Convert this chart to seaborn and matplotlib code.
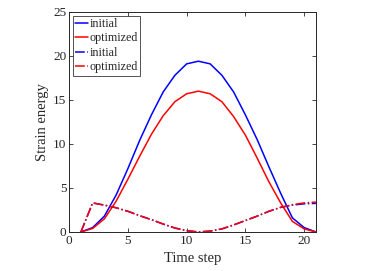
import pandas as pd
import matplotlib
matplotlib.use("Agg")
import matplotlib.pyplot as plt
import seaborn as sns

# Data
time_step = list(range(1, 22))
initial_solid = [0, 0.5, 1.8, 4.2, 7.2, 10.4, 13.3, 15.9, 17.8, 19.1, 19.4,
                 19.1, 17.8, 15.9, 13.3, 10.5, 7.4, 4.4, 1.6, 0.5, 0]
optimized_solid = [0, 0.4, 1.5, 3.5, 6.0, 8.6, 11.1, 13.2, 14.8, 15.7, 16.0,
                   15.7, 14.8, 13.1, 11.0, 8.4, 5.7, 3.3, 1.2, 0.35, 0]
initial_dash = [0, 3.3, 3.05, 2.75, 2.35, 1.85, 1.4, 0.9, 0.45, 0.15, 0.0,
                0.1, 0.35, 0.8, 1.3, 1.8, 2.35, 2.8, 3.05, 3.2, 3.25]
optimized_dash = [0, 3.3, 3.05, 2.75, 2.35, 1.85, 1.4, 0.9, 0.45, 0.15, 0.0,
                  0.1, 0.35, 0.8, 1.3, 1.8, 2.35, 2.8, 3.1, 3.3, 3.4]

sns.set_style("ticks")
plt.rcParams['font.family'] = ['Liberation Serif', 'DejaVu Serif']
plt.rcParams['xtick.direction'] = 'in'
plt.rcParams['ytick.direction'] = 'in'

df = pd.DataFrame({
    'Time step': time_step,
    'initial': initial_solid,
    'optimized': optimized_solid,
    'initial_d': initial_dash,
    'optimized_d': optimized_dash,
})

fig = plt.figure(figsize=(3.82, 2.71), dpi=100)
ax = fig.add_axes([0.181, 0.144, 0.646, 0.812])

lw = 1.1
sns.lineplot(data=df, x='Time step', y='initial', color='#0000ff', lw=lw, ax=ax, label='initial')
sns.lineplot(data=df, x='Time step', y='optimized', color='#ff0000', lw=lw, ax=ax, label='optimized')
sns.lineplot(data=df, x='Time step', y='initial_d', color='#0000ff', lw=lw, ls='-.', ax=ax, label='initial')
sns.lineplot(data=df, x='Time step', y='optimized_d', color='#ff0000', lw=lw, ls='-.', ax=ax, label='optimized')

ax.set_xlim(0, 21)
ax.set_ylim(0, 25)
ax.set_xticks([0, 5, 10, 15, 20])
ax.set_yticks([0, 5, 10, 15, 20, 25])
ax.set_xlabel('Time step', fontsize=10.5, labelpad=4)
ax.set_ylabel('Strain energy', fontsize=10.5, labelpad=3)
ax.tick_params(labelsize=9.5, length=3, width=0.6, color='#262626',
               top=True, right=True, pad=2)
for s in ax.spines.values():
    s.set_visible(True)
    s.set_linewidth(0.7)
    s.set_color('#262626')

leg = ax.legend(loc='upper left', fontsize=8.7, frameon=True, fancybox=False,
                handlelength=1.1, handletextpad=0.1, borderpad=0.2,
                labelspacing=0.2, borderaxespad=0.3)
leg.get_frame().set_edgecolor('#262626')
leg.get_frame().set_linewidth(0.7)

fig.savefig('out.png', dpi=100)
